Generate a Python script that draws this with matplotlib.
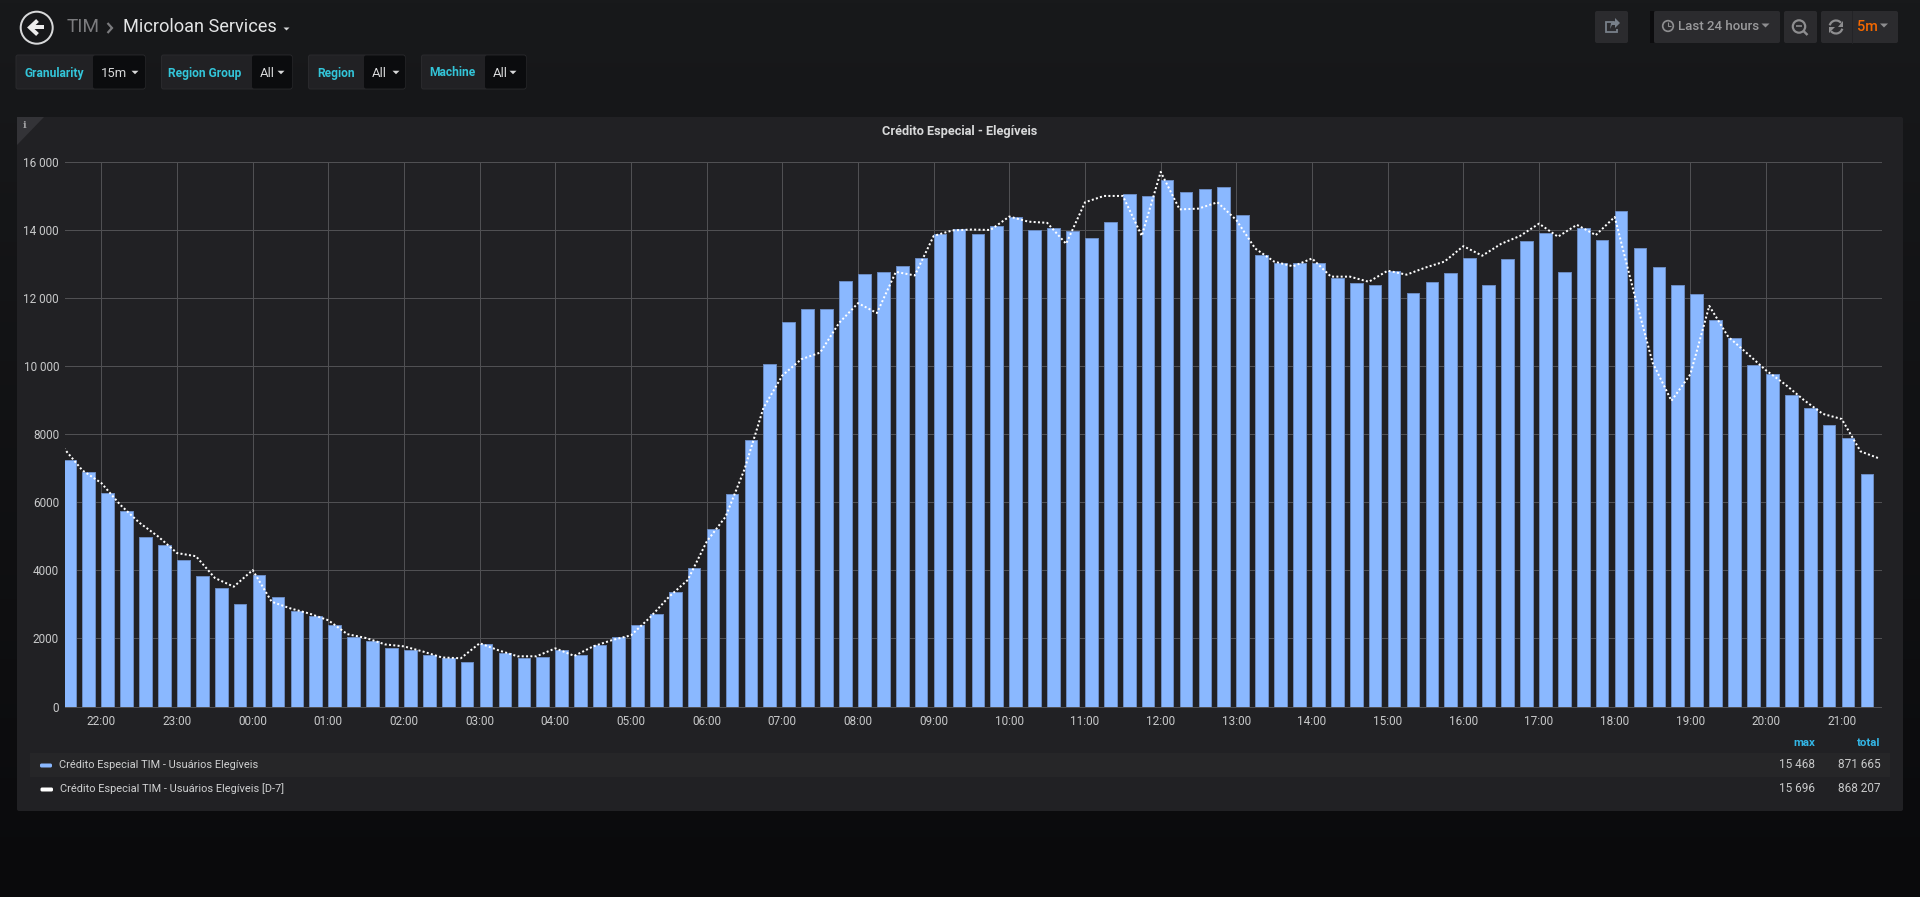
import matplotlib
matplotlib.use("Agg")
import matplotlib.pyplot as plt
import matplotlib.dates as mdates
import matplotlib.patches as patches
import numpy as np
import pandas as pd

plt.rcParams['font.family'] = ['Roboto', 'DejaVu Sans']

# values, 15 min steps starting 21:30
eligible = [
    7245, 6873, 6258, 5747, 4969, 4748, 4307, 3820, 3471, 3019, 3866, 3216,
    2798, 2647, 2403, 2055, 1916, 1730, 1672, 1498, 1416, 1312, 1834, 1556,
    1416, 1463, 1660, 1521, 1800, 2043, 2392, 2705, 3355, 4064, 5225, 6246,
    7825, 10054, 11285, 11656, 11680, 12504, 12690, 12748, 12934, 13177, 13862, 14025,
    13885, 14118, 14362, 13990, 14060, 13955, 13758, 14222, 15058, 15000, 15468, 15104,
    15186, 15255, 14420, 13247, 13026, 13026, 13026, 12585, 12423, 12388, 12794, 12144,
    12469, 12725, 13177, 12388, 13142, 13676, 13909, 12760, 14060, 13688, 14536, 13456,
    12899, 12365, 12121, 11355, 10809, 10020, 9764, 9149, 8777, 8266, 7883, 6838,
]
eligible_d7 = [
    7593, 6931, 6560, 5921, 5399, 4992, 4505, 4412, 3773, 3518, 4005, 3077,
    2879, 2728, 2531, 2125, 2009, 1823, 1765, 1614, 1440, 1416, 1858, 1649,
    1474, 1474, 1707, 1486, 1765, 1950, 2090, 2612, 3216, 3715, 4841, 5573,
    6966, 8766, 9718, 10194, 10391, 11262, 11842, 11552, 12760, 12655, 13816, 13978,
    14002, 13990, 14385, 14234, 14199, 13584, 14803, 14989, 14989, 13816, 15696, 14594,
    14617, 14803, 14280, 13444, 13061, 12922, 13154, 12620, 12620, 12469, 12794, 12678,
    12887, 13061, 13514, 13235, 13584, 13816, 14176, 13792, 14141, 13839, 14373, 12190,
    10100, 8975, 9752, 11761, 10855, 10368, 9868, 9462, 8998, 8591, 8440, 7488, 7279,
]
y_ticks = [0, 2000, 4000, 6000, 8000, 10000, 12000, 14000, 16000]
y_labels = ['0', '2000', '4000', '6000', '8000', '10 000', '12 000', '14 000', '16 000']
series_names = ['Crédito Especial TIM - Usuários Elegíveis',
                'Crédito Especial TIM - Usuários Elegíveis [D-7]']
series_max = ['15 468', '15 696']
series_total = ['871 665', '868 207']

W, H = 1920, 897
BLUE = '#8ab8ff'
GRID = '#505053'
TEXT = '#d8d9da'
CYAN = '#33c5d9'
BTN = '#2b2b2e'
ICON = '#8e8e90'


def px(v):
    # css pixels to points
    return v * 72 / 100


fig = plt.figure(figsize=(W / 100, H / 100), dpi=100)

# chrome layer in pixel coordinates
bg = fig.add_axes([0, 0, 1, 1], zorder=0)
bg.set_xlim(0, W)
bg.set_ylim(H, 0)
bg.axis('off')
top_c = np.array([0x18, 0x19, 0x1b])
bot_c = np.array([0x0a, 0x0a, 0x0c])
grad = np.linspace(0, 1, 256)[:, None, None] * (bot_c - top_c) + top_c
bg.imshow(grad.astype(np.uint8), extent=[0, W, H, 0], aspect='auto', zorder=0)
bg.set_xlim(0, W)
bg.set_ylim(H, 0)


def box(x0, y0, x1, y1, color, r=2, z=1, edge='none'):
    bg.add_patch(patches.FancyBboxPatch((x0, y0), x1 - x0, y1 - y0,
                                        boxstyle=f'round,pad=0,rounding_size={r}',
                                        fc=color, ec=edge, lw=0.7, zorder=z))


def caret(x, y, w=4, h=4, color=TEXT):
    bg.add_patch(patches.Polygon([(x - w, y - h / 2), (x + w, y - h / 2), (x, y + h / 2)],
                                 fc=color, ec='none', zorder=5))


def label(x, y, s, size=12, color=TEXT, ha='left', weight='normal', **kw):
    bg.text(x, y, s, fontsize=px(size), color=color, ha=ha, va='center',
            fontweight=weight, zorder=6, **kw)


def stroke(xs, ys, color=TEXT, lw=2, cap='round'):
    bg.plot(xs, ys, color=color, lw=px(lw), solid_capstyle=cap, solid_joinstyle='miter', zorder=6)


# back button and breadcrumb
bg.add_patch(patches.Circle((36.7, 27.7), 16, fc='none', ec=TEXT, lw=px(2), zorder=5))
stroke([32, 44], [27.5, 27.5], color='#ececec', lw=4, cap='butt')
stroke([37.5, 30, 37.5], [20.5, 27.5, 34.5], color='#ececec', lw=4, cap='butt')
label(67, 27.5, 'TIM', size=19, color='#7b7b7e')
stroke([107.5, 112, 107.5], [23, 28, 33], color='#7b7b7e', lw=2.2, cap='butt')
label(123, 27.5, 'Microloan Services', size=18.1, color='#e4e5e6')
caret(286.5, 29, w=3, h=3)

# template variables
tiles = [('Granularity', '15m', 16, 93, 145, 24.5, 101, 135),
         ('Region Group', 'All', 161.5, 252, 292, 168.5, 260, 281),
         ('Region', 'All', 308.5, 364, 405, 317, 372, 396),
         ('Machine', 'All', 421.5, 485, 526, 429, 493, 513)]
for name, val, x0, xm, x1, xl, xv, xc in tiles:
    box(x0, 55, x1, 89, '#212124', edge='#2a2a2d')
    box(xm, 55.5, x1, 88.5, '#0b0c0e')
    label(xl, 73, name, size=12, color=CYAN, weight='bold')
    label(xv, 73.5, val, size=13, color=TEXT)
    caret(xc, 72.5, w=3.5, h=3.5)

# top right buttons
box(1595, 11, 1628, 43, BTN)
box(1650, 11, 1654, 43, '#0c0c0e', r=0)
box(1654, 11, 1780, 43, BTN)
box(1784, 11, 1817, 43, BTN)
box(1821, 11, 1898, 43, BTN)
bg.plot([1851.5, 1851.5], [11, 43], color='#232326', lw=0.7, zorder=3)
# share icon
stroke([1614, 1606, 1606, 1617, 1617], [22, 22, 32, 32, 29], color='#78808a', lw=1.8, cap='butt')
bg.add_patch(patches.Polygon([(1610, 29), (1611, 23), (1615, 21), (1615, 18),
                              (1620, 23), (1615, 28), (1615, 25), (1612, 25)],
                             fc='#78808a', ec='none', zorder=6))
# clock, magnifier, refresh
bg.add_patch(patches.Circle((1668, 26), 5.3, fc='none', ec=ICON, lw=px(1.7), zorder=6))
stroke([1668, 1668, 1671], [22.5, 26.5, 26.5], color=ICON, lw=1.1, cap='butt')
label(1678, 27, 'Last 24 hours', size=13.2, color='#9a9a9c', weight='medium')
caret(1765.5, 25.5, w=4, h=4, color=ICON)
bg.add_patch(patches.Circle((1799, 26.5), 6.2, fc='none', ec=ICON, lw=px(2.2), zorder=6))
stroke([1796, 1802], [26.5, 26.5], color=ICON, lw=1.6, cap='butt')
stroke([1803.5, 1807.5], [31, 35], color=ICON, lw=2.4, cap='butt')
bg.add_patch(patches.Arc((1836, 27), 13, 13, theta1=195, theta2=320, ec=ICON, lw=px(2.2), zorder=6))
bg.add_patch(patches.Arc((1836, 27), 13, 13, theta1=15, theta2=140, ec=ICON, lw=px(2.2), zorder=6))
bg.add_patch(patches.Polygon([(1843, 21), (1843, 27), (1837.5, 27)], fc=ICON, ec='none', zorder=6))
bg.add_patch(patches.Polygon([(1829, 33), (1829, 27), (1834.5, 27)], fc=ICON, ec='none', zorder=6))
label(1856.5, 27, '5m', size=14.5, color='#f46800', weight='medium')
caret(1884, 25.5, w=4, h=4, color=ICON)

# panel
box(17, 117, 1903, 811, '#212124', r=2)
bg.add_patch(patches.Polygon([(17, 117), (44, 117), (17, 145)], fc='#333337', ec='none', zorder=2))
bg.text(24.5, 125, 'i', fontsize=px(10), color='#a0a0a2', ha='center', va='center',
        family='DejaVu Serif', fontweight='bold', zorder=6)
label(960, 131, 'Crédito Especial - Elegíveis', size=12.8, ha='center', weight='bold')

# legend table
box(30, 753, 1890, 777, '#262628', r=0)
label(1815, 743, 'max', size=11.5, color='#33b5e5', ha='right', weight='bold')
label(1880, 743, 'total', size=11.5, color='#33b5e5', ha='right', weight='bold')
rows = [(765.5, 40, 52, 59, BLUE), (789.5, 40.5, 53, 60, '#ffffff')]
for (yr, x0, x1, xt, col), name, mx, tot in zip(rows, series_names, series_max, series_total):
    box(x0, yr - 2, x1, yr + 2, col, r=1.5, z=5)
    label(xt, yr - 1, name, size=11, color='#d0d1d2')
    label(1815, yr - 1, mx, size=11.7, color='#c8c9ca', ha='right')
    label(1881, yr - 1, tot, size=11.7, color='#c8c9ca', ha='right')

# chart
left, right, top, bottom = 65, 1881, 161.5, 706.5
ax = fig.add_axes([left / W, 1 - bottom / H, (right - left) / W, (bottom - top) / H], zorder=2)
ax.patch.set_alpha(0)

times = pd.date_range('2018-06-01 21:30', periods=len(eligible_d7), freq='15min')
step = 15 / (24 * 60)
ax.bar(times[:len(eligible)], eligible, width=0.67 * step, align='edge',
       color=BLUE, edgecolor='#6a8ac0', linewidth=px(1), zorder=3)
ax.plot(times, eligible_d7, color='white', lw=px(2), linestyle=(0, (1, 1.15)), zorder=4)

ax.set_xlim(pd.Timestamp('2018-06-01 21:31:10'), pd.Timestamp('2018-06-02 21:31:10'))
ax.set_ylim(0, 16000)
ax.set_yticks(y_ticks)
ax.set_yticklabels(y_labels)
ax.xaxis.set_major_locator(mdates.HourLocator())
ax.xaxis.set_major_formatter(mdates.DateFormatter('%H:%M'))
ax.grid(True, color=GRID, lw=px(1), zorder=1)
ax.set_axisbelow(True)
for s in ax.spines.values():
    s.set_visible(False)
ax.tick_params(axis='both', length=0, labelcolor='#c8c9ca', labelsize=px(11.7))
ax.tick_params(axis='x', pad=px(8))
ax.tick_params(axis='y', pad=px(6))
for gl in ax.get_ygridlines():
    gl.set_clip_on(False)

fig.savefig('out.png', dpi=100, facecolor='#111214')
